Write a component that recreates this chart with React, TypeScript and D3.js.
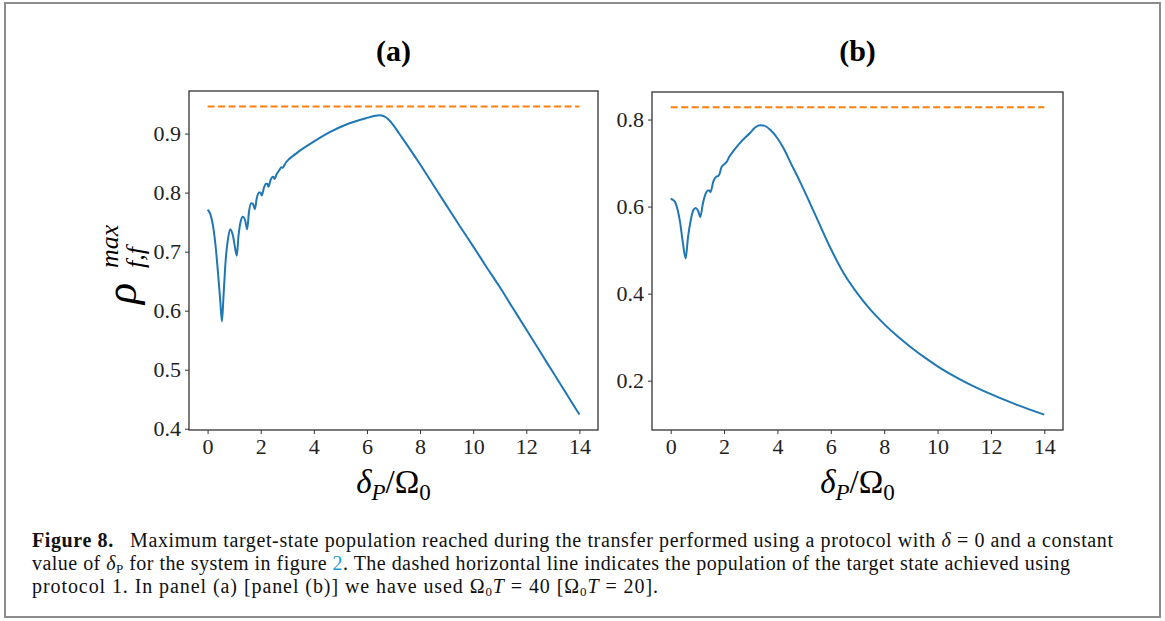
import React, { useEffect, useRef } from "react";
import * as d3 from "d3";

// panel (a): Omega0 T = 40
const xA = [0, 0.1, 0.2, 0.3, 0.4, 0.48, 0.54, 0.6, 0.68, 0.77, 0.85, 0.95, 1.04, 1.1, 1.16, 1.25, 1.33, 1.42, 1.49, 1.56, 1.64, 1.71, 1.78, 1.85, 1.93, 1.99, 2.04, 2.12, 2.2, 2.25, 2.29, 2.37, 2.45, 2.49, 2.52, 2.6, 2.7, 2.78, 2.82, 2.95, 3.33, 3.95, 4.58, 5.2, 5.96, 6.3, 6.46, 6.65, 6.83, 7.0, 7.2, 7.6, 8, 8.5, 9, 9.5, 10, 10.5, 11, 11.5, 12, 12.5, 13, 13.5, 14];
const yA = [0.771, 0.764, 0.745, 0.71, 0.66, 0.615, 0.582, 0.625, 0.685, 0.722, 0.738, 0.728, 0.705, 0.693, 0.725, 0.752, 0.759, 0.752, 0.738, 0.768, 0.782, 0.781, 0.772, 0.79, 0.8, 0.8, 0.795, 0.808, 0.815, 0.815, 0.81, 0.821, 0.827, 0.826, 0.823, 0.831, 0.838, 0.843, 0.842, 0.851, 0.866, 0.885, 0.902, 0.915, 0.926, 0.93, 0.931, 0.929, 0.923, 0.914, 0.901, 0.875, 0.848, 0.813, 0.778, 0.743, 0.709, 0.674, 0.64, 0.604, 0.568, 0.532, 0.496, 0.46, 0.424];
const refA = 0.946;

// panel (b): Omega0 T = 20
const xB = [0, 0.15, 0.25, 0.35, 0.45, 0.56, 0.65, 0.75, 0.85, 0.94, 1.03, 1.11, 1.2, 1.3, 1.4, 1.45, 1.49, 1.6, 1.71, 1.78, 1.83, 1.9, 2.0, 2.09, 2.2, 2.34, 2.59, 2.97, 3.15, 3.34, 3.5, 3.72, 4.0, 4.22, 4.5, 4.84, 5.15, 5.47, 6.0, 6.5, 7, 7.5, 8, 8.5, 9, 9.5, 10, 11, 12, 13, 14];
const yB = [0.618, 0.612, 0.595, 0.565, 0.52, 0.481, 0.53, 0.568, 0.592, 0.597, 0.59, 0.576, 0.605, 0.628, 0.637, 0.637, 0.633, 0.658, 0.669, 0.67, 0.675, 0.69, 0.697, 0.702, 0.715, 0.727, 0.746, 0.769, 0.781, 0.787, 0.786, 0.777, 0.757, 0.735, 0.7, 0.658, 0.617, 0.574, 0.503, 0.445, 0.4, 0.362, 0.33, 0.302, 0.277, 0.254, 0.233, 0.198, 0.169, 0.144, 0.122];
const refB = 0.828;

const xTicks = [0, 2, 4, 6, 8, 10, 12, 14];
const yTicksA = [0.4, 0.5, 0.6, 0.7, 0.8, 0.9];
const yTicksB = [0.2, 0.4, 0.6, 0.8];

const width = 1165;
const height = 621;
const serif = "Liberation Serif, DejaVu Serif, serif";

function pad(lo: number, hi: number): [number, number] {
  const m = (hi - lo) * 0.05;
  return [lo - m, hi + m];
}

type Panel = {
  title: string;
  xs: number[];
  ys: number[];
  ref: number;
  yTicks: number[];
  left: number;
  right: number;
  top: number;
  bottom: number;
  ylabel: boolean;
};

const panels: Panel[] = [
  { title: "(a)", xs: xA, ys: yA, ref: refA, yTicks: yTicksA, left: 189, right: 598, top: 91, bottom: 430, ylabel: true },
  { title: "(b)", xs: xB, ys: yB, ref: refB, yTicks: yTicksB, left: 652, right: 1063, top: 92, bottom: 430, ylabel: false },
];

export default function App() {
  const svgRef = useRef<SVGSVGElement | null>(null);

  useEffect(() => {
    const svg = d3.select(svgRef.current);
    svg.selectAll("*").remove();

    svg
      .append("rect")
      .attr("x", 5)
      .attr("y", 3)
      .attr("width", 1155)
      .attr("height", 614)
      .attr("fill", "white")
      .attr("stroke", "#8c8c8c")
      .attr("stroke-width", 2);

    panels.forEach((p) => {
      const x = d3.scaleLinear().domain(pad(0, 14)).range([p.left, p.right]);
      const yMin = d3.min(p.ys) as number;
      const yMax = Math.max(d3.max(p.ys) as number, p.ref);
      const y = d3.scaleLinear().domain(pad(yMin, yMax)).range([p.bottom, p.top]);

      const g = svg.append("g");

      const xAxis = d3.axisBottom(x).tickValues(xTicks).tickFormat(d3.format("d")).tickSize(4).tickSizeOuter(0).tickPadding(4);
      const yAxis = d3.axisLeft(y).tickValues(p.yTicks).tickFormat(d3.format(".1f")).tickSize(4).tickSizeOuter(0).tickPadding(4);

      const gx = g.append("g").attr("transform", `translate(0,${p.bottom})`).call(xAxis);
      const gy = g.append("g").attr("transform", `translate(${p.left},0)`).call(yAxis);
      [gx, gy].forEach((a) => {
        a.attr("font-family", serif).attr("font-size", 22);
        a.select(".domain").remove();
        a.selectAll("line").attr("stroke", "#333").attr("stroke-width", 1);
        a.selectAll("text").attr("fill", "#222");
      });

      g.append("line")
        .attr("x1", x(0))
        .attr("x2", x(14))
        .attr("y1", y(p.ref))
        .attr("y2", y(p.ref))
        .attr("stroke", "#ff7f0e")
        .attr("stroke-width", 2)
        .attr("stroke-dasharray", "7,3.5");

      const line = d3
        .line<number>()
        .x((_, i) => x(p.xs[i]))
        .y((d) => y(d))
        .curve(d3.curveMonotoneX);

      g.append("path")
        .datum(p.ys)
        .attr("fill", "none")
        .attr("stroke", "#1f77b4")
        .attr("stroke-width", 2)
        .attr("stroke-linejoin", "round")
        .attr("d", line);

      g.append("rect")
        .attr("x", p.left)
        .attr("y", p.top)
        .attr("width", p.right - p.left)
        .attr("height", p.bottom - p.top)
        .attr("fill", "none")
        .attr("stroke", "#333")
        .attr("stroke-width", 1.3);

      const cx = (p.left + p.right) / 2;
      g.append("text")
        .attr("x", cx)
        .attr("y", 61)
        .attr("text-anchor", "middle")
        .attr("font-family", serif)
        .attr("font-weight", "bold")
        .attr("font-size", 30)
        .text(p.title);

      // x label: delta_P / Omega_0
      const xl = g
        .append("text")
        .attr("x", cx)
        .attr("y", 493)
        .attr("text-anchor", "middle")
        .attr("font-family", serif)
        .attr("font-size", 33);
      xl.append("tspan").attr("font-style", "italic").text("δ");
      xl.append("tspan").attr("font-style", "italic").attr("font-size", 23).attr("dy", 7).text("P");
      xl.append("tspan").attr("dy", -7).text("/Ω");
      xl.append("tspan").attr("font-size", 23).attr("dy", 7).text("0");

      if (p.ylabel) {
        const yl = g.append("g").attr("transform", "translate(136,262) rotate(-90)");
        yl.append("text")
          .attr("x", -42)
          .attr("y", 0)
          .attr("font-family", serif)
          .attr("font-style", "italic")
          .attr("font-size", 44)
          .text("ρ");
        yl.append("text")
          .attr("x", -6)
          .attr("y", -18)
          .attr("font-family", serif)
          .attr("font-style", "italic")
          .attr("font-size", 26)
          .text("max");
        yl.append("text")
          .attr("x", -6)
          .attr("y", 8)
          .attr("font-family", serif)
          .attr("font-style", "italic")
          .attr("font-size", 26)
          .text("f,f");
      }
    });

    // caption
    const cap = svg.append("g").attr("font-family", serif).attr("font-size", 20).attr("fill", "#111");
    const l1 = cap.append("text").attr("x", 32).attr("y", 547).attr("textLength", 1081).attr("lengthAdjust", "spacing");
    l1.append("tspan").attr("font-weight", "bold").text("Figure 8.");
    l1.append("tspan").text("\u2002 Maximum target-state population reached during the transfer performed using a protocol with ");
    l1.append("tspan").attr("font-style", "italic").text("δ");
    l1.append("tspan").text(" = 0 and a constant");

    const l2 = cap.append("text").attr("x", 32).attr("y", 570).attr("textLength", 1038).attr("lengthAdjust", "spacing");
    l2.append("tspan").text("value of ");
    l2.append("tspan").attr("font-style", "italic").text("δ");
    l2.append("tspan").attr("font-size", 13).attr("dy", 3).text("P");
    l2.append("tspan").attr("dy", -3).text(" for the system in figure ");
    l2.append("tspan").attr("fill", "#1a9bd7").text("2");
    l2.append("tspan").text(". The dashed horizontal line indicates the population of the target state achieved using");

    const l3 = cap.append("text").attr("x", 32).attr("y", 593).attr("textLength", 626).attr("lengthAdjust", "spacing");
    l3.append("tspan").text("protocol 1. In panel (a) [panel (b)] we have used Ω");
    l3.append("tspan").attr("font-size", 13).attr("dy", 3).text("0");
    l3.append("tspan").attr("dy", -3).attr("font-style", "italic").text("T");
    l3.append("tspan").text(" = 40 [Ω");
    l3.append("tspan").attr("font-size", 13).attr("dy", 3).text("0");
    l3.append("tspan").attr("dy", -3).attr("font-style", "italic").text("T");
    l3.append("tspan").text(" = 20].");
  }, []);

  return (
    <svg
      ref={svgRef}
      width={width}
      height={height}
      style={{ position: "absolute", left: 0, top: 0, background: "white" }}
    ></svg>
  );
}
